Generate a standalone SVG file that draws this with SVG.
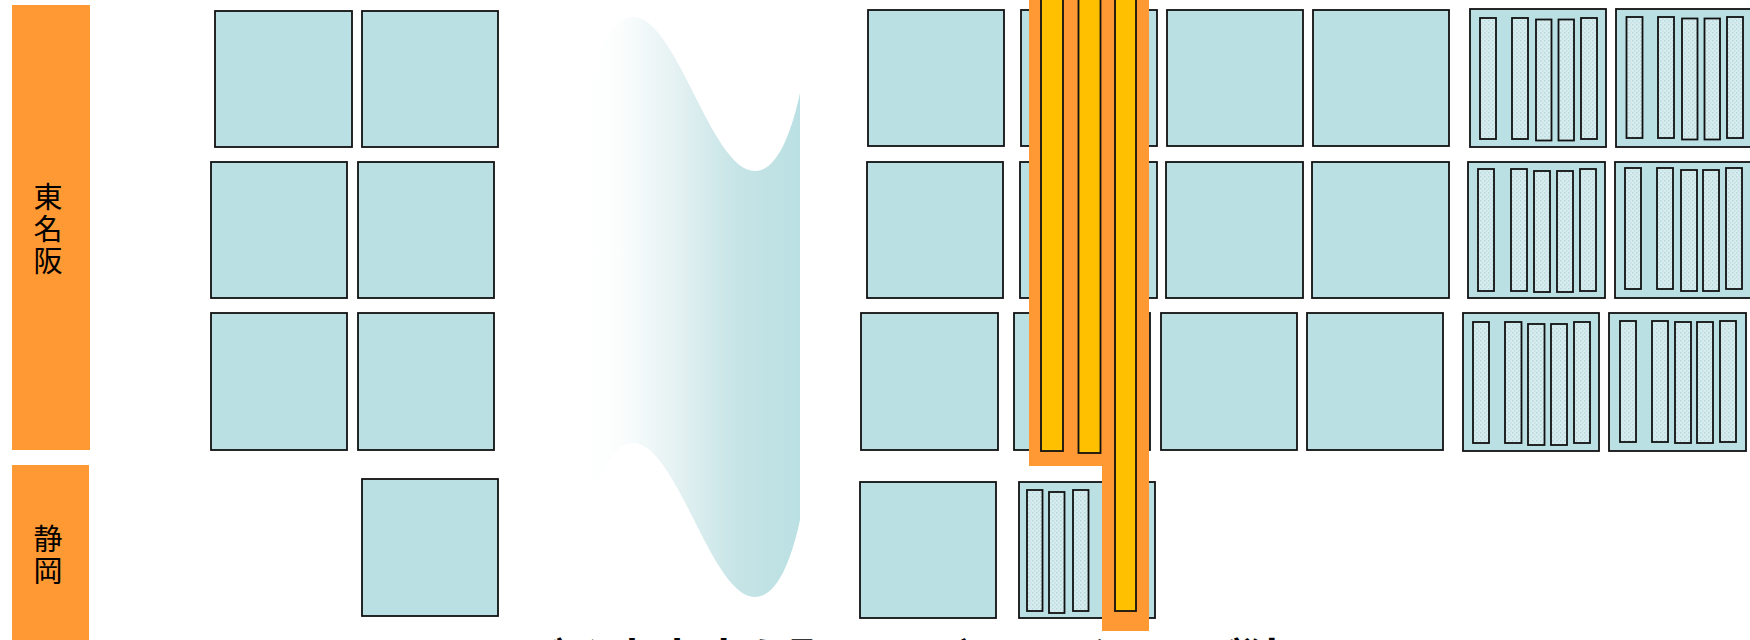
<svg xmlns="http://www.w3.org/2000/svg" width="1750" height="640" viewBox="0 0 1750 640">
<style>
.sq{fill:#BBE0E3;stroke:#111;stroke-width:1.8}
.st{fill:url(#dots);stroke:#111;stroke-width:1.8}
.bar{fill:#FF9933}
.lbl{font-family:"Noto Sans CJK JP","Noto Sans",sans-serif;font-size:29px;fill:#000;writing-mode:vertical-rl;letter-spacing:3px}
.yl{fill:#FFC000;stroke:#111;stroke-width:1.8}
.cap{font-family:"Noto Sans CJK JP","Noto Sans",sans-serif;font-size:45px;font-weight:bold;fill:#000;text-anchor:middle}
</style>
<defs>
<linearGradient id="wave" gradientUnits="userSpaceOnUse" x1="589" y1="0" x2="800" y2="0">
<stop offset="0" stop-color="#FFFFFF"/>
<stop offset="0.15" stop-color="#FBFDFD"/>
<stop offset="0.4" stop-color="#E6F2F3"/>
<stop offset="0.7" stop-color="#C6E4E6"/>
<stop offset="1" stop-color="#BBE0E3"/>
</linearGradient>
<pattern id="dots" patternUnits="userSpaceOnUse" width="4" height="4">
<rect width="4" height="4" fill="#D6ECEE"/>
<rect x="0" y="0" width="1.5" height="1.5" fill="#B9D8DB"/>
<rect x="2" y="2" width="1.5" height="1.5" fill="#C4DFE2"/>
</pattern>
</defs>
<rect width="1750" height="640" fill="#FFFFFF"/>

<g id="label-tomeihan">
<rect class="bar" x="12" y="5" width="78" height="445"/>
<text class="lbl" x="48" y="182">東名阪</text>
</g>
<g id="label-shizuoka">
<rect class="bar" x="12" y="465" width="77" height="180"/>
<text class="lbl" x="48" y="524">静岡</text>
</g>

<g id="left-cells">
<rect class="sq" x="215" y="11" width="137" height="136"/>
<rect class="sq" x="362" y="11" width="136" height="136"/>
<rect class="sq" x="211" y="162" width="136" height="136"/>
<rect class="sq" x="358" y="162" width="136" height="136"/>
<rect class="sq" x="211" y="313" width="136" height="137"/>
<rect class="sq" x="358" y="313" width="136" height="137"/>
<rect class="sq" x="362" y="479" width="136" height="137"/>
</g>

<g id="wave-transition">
<path d="M589,91 C597,54 611,17 633,17 C677,17 711,171 755,171 C778,171 792,130 800,93 L800,520 C792,557 778,597 755,597 C711,597 677,443 633,443 C611,443 597,480 589,517 Z" fill="url(#wave)"/>
</g>

<g id="right-cells">
<rect class="sq" x="868" y="10" width="136" height="136"/>
<rect class="sq" x="1021" y="10" width="136" height="136"/>
<rect class="sq" x="1167" y="10" width="136" height="136"/>
<rect class="sq" x="1313" y="10" width="136" height="136"/>
<rect class="sq" x="867" y="162" width="136" height="136"/>
<rect class="sq" x="1020" y="162" width="137" height="136"/>
<rect class="sq" x="1166" y="162" width="137" height="136"/>
<rect class="sq" x="1312" y="162" width="137" height="136"/>
<rect class="sq" x="861" y="313" width="137" height="137"/>
<rect class="sq" x="1014" y="313" width="136" height="137"/>
<rect class="sq" x="1161" y="313" width="136" height="137"/>
<rect class="sq" x="1307" y="313" width="136" height="137"/>
<rect class="sq" x="860" y="482" width="136" height="136"/>
</g>

<g id="striped-r1c5">
<rect class="sq" x="1470" y="9" width="136" height="138"/>
<rect class="st" x="1480" y="18" width="16" height="121"/>
<rect class="st" x="1512" y="18" width="16" height="121"/>
<rect class="st" x="1536" y="19.5" width="15.5" height="121"/>
<rect class="st" x="1558.5" y="19.5" width="15.5" height="121"/>
<rect class="st" x="1581" y="18" width="16" height="121"/>
</g>
<g id="striped-r1c6">
<rect class="sq" x="1616" y="9" width="136" height="138"/>
<rect class="st" x="1626.5" y="17" width="16" height="121"/>
<rect class="st" x="1658" y="17" width="16" height="121"/>
<rect class="st" x="1682" y="18.5" width="15.5" height="121"/>
<rect class="st" x="1704.5" y="18.5" width="15.5" height="121"/>
<rect class="st" x="1727" y="17" width="16" height="121"/>
</g>
<g id="striped-r2c5">
<rect class="sq" x="1468" y="162" width="137" height="136"/>
<rect class="st" x="1478" y="169" width="16" height="122"/>
<rect class="st" x="1511" y="169" width="16" height="122"/>
<rect class="st" x="1534" y="171" width="16" height="121"/>
<rect class="st" x="1557" y="171" width="16" height="121"/>
<rect class="st" x="1580" y="169" width="16" height="122"/>
</g>
<g id="striped-r2c6">
<rect class="sq" x="1615" y="162" width="137" height="136"/>
<rect class="st" x="1625" y="168" width="16" height="121"/>
<rect class="st" x="1657" y="168" width="16" height="121"/>
<rect class="st" x="1681" y="170" width="16" height="121"/>
<rect class="st" x="1703" y="170" width="16" height="121"/>
<rect class="st" x="1726" y="168" width="16" height="121"/>
</g>
<g id="striped-r3c5">
<rect class="sq" x="1463" y="313" width="136" height="138"/>
<rect class="st" x="1473" y="322" width="16" height="121"/>
<rect class="st" x="1505" y="322" width="16.5" height="121"/>
<rect class="st" x="1528" y="324" width="16.5" height="121"/>
<rect class="st" x="1551" y="324" width="16" height="121"/>
<rect class="st" x="1574" y="322" width="16" height="121"/>
</g>
<g id="striped-r3c6">
<rect class="sq" x="1609" y="313" width="137" height="138"/>
<rect class="st" x="1620" y="321" width="16" height="121"/>
<rect class="st" x="1652" y="321" width="16" height="121"/>
<rect class="st" x="1675" y="322" width="16" height="121"/>
<rect class="st" x="1697" y="322" width="16" height="121"/>
<rect class="st" x="1720" y="321" width="16" height="121"/>
</g>
<g id="striped-r4c2">
<rect class="sq" x="1019" y="482" width="136" height="136"/>
<rect class="st" x="1027" y="490" width="15.5" height="121"/>
<rect class="st" x="1049" y="492" width="15.5" height="121"/>
<rect class="st" x="1073" y="490" width="15.5" height="121"/>
</g>

<g id="orange-overlay">
<path class="bar" d="M1029,0 H1149 V631 H1102 V466 H1029 Z"/>
<rect class="yl" x="1041" y="-5" width="22" height="456"/>
<rect class="yl" x="1078.5" y="-5" width="22" height="458"/>
<rect class="yl" x="1115" y="-5" width="21" height="616"/>
</g>

<g id="caption">
<text class="cap" x="926" y="677">ごく高密度な配置でガードバンドが狭い</text>
</g>
</svg>
